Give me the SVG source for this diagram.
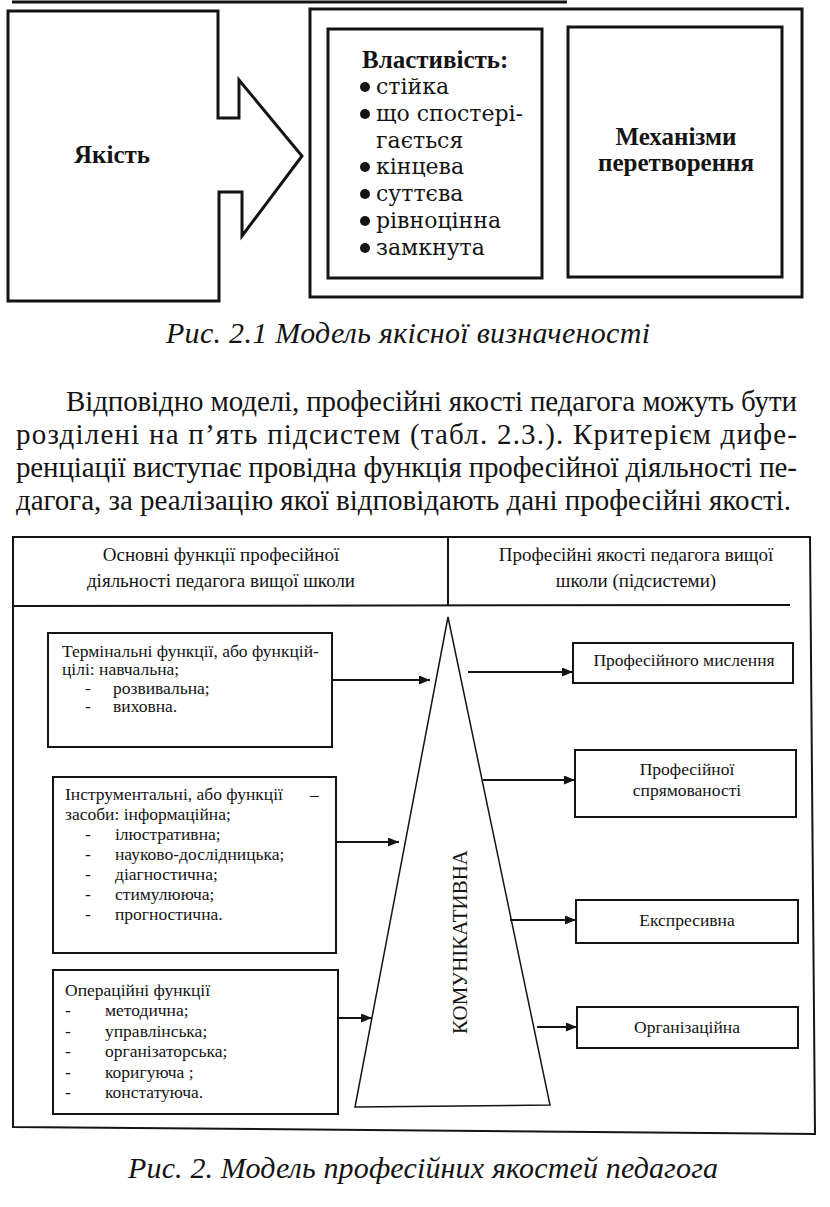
<svg xmlns="http://www.w3.org/2000/svg" width="830" height="1207" viewBox="0 0 830 1207">
<style>
.bg{fill:#ffffff}
.thick{fill:none;stroke:#141414;stroke-width:3;stroke-linejoin:miter}
.box{fill:none;stroke:#141414;stroke-width:2}
.thin{fill:none;stroke:#141414;stroke-width:1.5}
.conn{stroke:#141414;stroke-width:2;fill:none}
text{fill:#141414;font-family:"Liberation Serif","DejaVu Serif",serif}
.hb{font-weight:bold;font-size:25px}
.li{font-family:"DejaVu Serif","Liberation Serif",serif;font-size:22px}
.cap{font-style:italic;font-size:30px}
.par{font-size:29px}
.hd{font-size:19px}
.sm{font-size:17.5px}
.mid{text-anchor:middle}
</style>
<defs>
<marker id="ah" markerUnits="userSpaceOnUse" markerWidth="12" markerHeight="10" refX="11" refY="4.5" orient="auto">
<path d="M0,0 L11,4.5 L0,9 Z" fill="#141414"/>
</marker>
</defs>
<rect class="bg" x="0" y="0" width="830" height="1207"/>
<line x1="12" y1="2" x2="567" y2="2" stroke="#141414" stroke-width="3"/>

<g id="node-quality">
<path class="thick" d="M8,11 H218 V118 H239 V80 L302,156 L242,236 V192 H219 V301 H8 Z"/>
<text class="hb mid" x="112" y="163" font-size="26">Якість</text>
</g>

<g id="node-outer">
<rect class="thick" x="310" y="9" width="492" height="288"/>
</g>

<g id="node-properties">
<rect class="thick" x="328" y="29" width="214" height="249"/>
<text class="hb" x="362" y="68" font-size="24">Властивість:</text>
<g fill="#141414">
<circle cx="365" cy="87" r="5"/>
<circle cx="365" cy="114" r="5"/>
<circle cx="365" cy="167" r="5"/>
<circle cx="365" cy="194" r="5"/>
<circle cx="365" cy="221" r="5"/>
<circle cx="365" cy="248" r="5"/>
</g>
<text class="li" x="376" y="94">стійка</text>
<text class="li" x="376" y="121">що спостері-</text>
<text class="li" x="376" y="148">гається</text>
<text class="li" x="376" y="174">кінцева</text>
<text class="li" x="376" y="201">суттєва</text>
<text class="li" x="376" y="228">рівноцінна</text>
<text class="li" x="376" y="255">замкнута</text>
</g>

<g id="node-mechanisms">
<rect class="thick" x="568" y="27" width="214" height="250"/>
<text class="hb mid" x="676" y="145">Механізми</text>
<text class="hb mid" x="676" y="171">перетворення</text>
</g>

<text class="cap" x="166" y="343" textLength="484" lengthAdjust="spacing">Рис. 2.1 Модель якісної визначеності</text>

<g id="paragraph">
<text class="par" x="66" y="411" textLength="731" lengthAdjust="spacing">Відповідно моделі, професійні якості педагога можуть бути</text>
<text class="par" x="16" y="444" textLength="781" lengthAdjust="spacing">розділені на п’ять підсистем (табл. 2.3.). Критерієм дифе-</text>
<text class="par" x="16" y="477" textLength="781" lengthAdjust="spacing">ренціації виступає провідна функція професійної діяльності пе-</text>
<text class="par" x="16" y="510" textLength="775" lengthAdjust="spacing">дагога, за реалізацію якої відповідають дані професійні якості.</text>
</g>

<g id="table-frame">
<path class="box" d="M13,537 H810 L815,1134 L13,1127 Z"/>
<line class="box" x1="448" y1="537" x2="448" y2="606"/>
<line class="box" x1="13" y1="606" x2="790" y2="605"/>
<text class="hd mid" x="221" y="561">Основні функції професійної</text>
<text class="hd mid" x="221" y="587">діяльності педагога вищої школи</text>
<text class="hd mid" x="636" y="561">Професійні якості педагога вищої</text>
<text class="hd mid" x="636" y="587">школи (підсистеми)</text>
</g>

<g id="node-terminal">
<rect class="box" x="48" y="633" width="284" height="114"/>
<text class="sm" x="62" y="657">Термінальні функції, або функцій-</text>
<text class="sm" x="62" y="675">цілі: навчальна;</text>
<text class="sm" x="85" y="694">-</text><text class="sm" x="113" y="694">розвивальна;</text>
<text class="sm" x="85" y="712">-</text><text class="sm" x="113" y="712">виховна.</text>
</g>

<g id="node-instrumental">
<rect class="box" x="53" y="777" width="283" height="176"/>
<text class="sm" x="65" y="800">Інструментальні, або функції</text>
<text class="sm" x="310" y="800">–</text>
<text class="sm" x="65" y="820">засоби: інформаційна;</text>
<text class="sm" x="85" y="840">-</text><text class="sm" x="115" y="840">ілюстративна;</text>
<text class="sm" x="85" y="860">-</text><text class="sm" x="115" y="860">науково-дослідницька;</text>
<text class="sm" x="85" y="880">-</text><text class="sm" x="115" y="880">діагностична;</text>
<text class="sm" x="85" y="900">-</text><text class="sm" x="115" y="900">стимулююча;</text>
<text class="sm" x="85" y="920">-</text><text class="sm" x="115" y="920">прогностична.</text>
</g>

<g id="node-operational">
<rect class="box" x="53" y="970" width="285" height="144"/>
<text class="sm" x="65" y="996">Операційні функції</text>
<text class="sm" x="65" y="1016">-</text><text class="sm" x="105" y="1016">методична;</text>
<text class="sm" x="65" y="1037">-</text><text class="sm" x="105" y="1037">управлінська;</text>
<text class="sm" x="65" y="1057">-</text><text class="sm" x="105" y="1057">організаторська;</text>
<text class="sm" x="65" y="1078">-</text><text class="sm" x="105" y="1078">коригуюча ;</text>
<text class="sm" x="65" y="1098">-</text><text class="sm" x="105" y="1098">констатуюча.</text>
</g>

<g id="node-communicative">
<path class="thin" d="M448,617 L550,1105 L355,1107 Z"/>
<text transform="translate(467,942) rotate(-90)" class="mid" font-size="21">КОМУНІКАТИВНА</text>
</g>

<g id="node-thinking">
<rect class="box" x="573" y="643" width="220" height="40"/>
<text class="sm mid" x="684" y="666">Професійного мислення</text>
</g>
<g id="node-orientation">
<rect class="box" x="575" y="750" width="221" height="67"/>
<text class="sm mid" x="687" y="775">Професійної</text>
<text class="sm mid" x="687" y="796">спрямованості</text>
</g>
<g id="node-expressive">
<rect class="box" x="576" y="900" width="222" height="43"/>
<text class="sm mid" x="687" y="926">Експресивна</text>
</g>
<g id="node-organizational">
<rect class="box" x="577" y="1007" width="221" height="41"/>
<text class="sm mid" x="687" y="1033">Організаційна</text>
</g>

<g id="connectors">
<line class="conn" x1="332" y1="680" x2="430" y2="680" marker-end="url(#ah)"/>
<line class="conn" x1="336" y1="842" x2="399" y2="842" marker-end="url(#ah)"/>
<line class="conn" x1="338" y1="1018" x2="372" y2="1018" marker-end="url(#ah)"/>
<line class="conn" x1="468" y1="672" x2="573" y2="672" marker-end="url(#ah)"/>
<line class="conn" x1="483" y1="780" x2="575" y2="780" marker-end="url(#ah)"/>
<line class="conn" x1="510" y1="920" x2="576" y2="920" marker-end="url(#ah)"/>
<line class="conn" x1="537" y1="1027" x2="577" y2="1027" marker-end="url(#ah)"/>
</g>

<text class="cap" x="128" y="1178" textLength="590" lengthAdjust="spacing">Рис. 2. Модель професійних якостей педагога</text>
</svg>
